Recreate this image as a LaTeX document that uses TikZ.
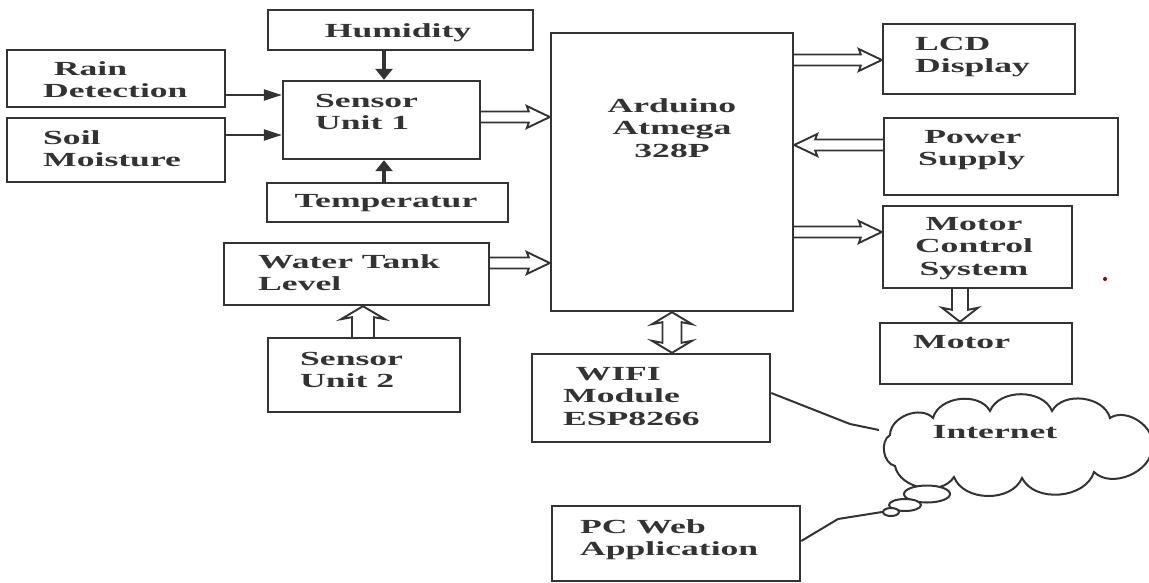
\documentclass[tikz,border=0pt]{standalone}
\usepackage{fontspec}
\setmainfont{Liberation Serif}
\usepackage{graphicx}
\usetikzlibrary{fit,calc,arrows.meta,shapes.geometric}
\definecolor{ink}{HTML}{333333}
\newcommand\tl[1]{\scalebox{1.78}[1]{\begin{tabular}[t]{@{}l@{}}#1\end{tabular}}}
\newcommand\tc[1]{\scalebox{1.78}[1]{\begin{tabular}[t]{@{}c@{}}#1\end{tabular}}}
\tikzset{
  fw/.store in=\fw, fh/.store in=\fh, fl/.store in=\fl,
  fw=5.5pt, fh=11pt, fl=21pt,
  box/.style={draw=ink, line width=2.4pt, inner sep=0pt, fill=white},
  txt/.style={text=ink, inner sep=0pt, font=\fontsize{20}{22.6}\selectfont\bfseries},
  arrh/.style={draw=ink, line width=2.2pt, -{Triangle[length=18pt,width=11pt]}},
  arrv/.style={draw=ink, line width=3.2pt, -{Triangle[length=11pt,width=17pt]}},
  fat/.style={draw=ink, line width=1.9pt, line join=miter, to path={
    let \p1=(\tikztostart), \p2=(\tikztotarget), \n1={atan2(\y2-\y1,\x2-\x1)} in
    ($(\p1)+(\n1+90:\fw)$) -- ($(\p2)+(\n1+180:\fl)+(\n1+90:\fw)$)
    -- ($(\p2)+(\n1+180:\fl+2pt)+(\n1+90:\fh)$) -- (\p2)
    -- ($(\p2)+(\n1+180:\fl+2pt)+(\n1-90:\fh)$) -- ($(\p2)+(\n1+180:\fl)+(\n1-90:\fw)$)
    -- ($(\p1)+(\n1-90:\fw)$)}},
  fatboth/.style={draw=ink, line width=1.9pt, line join=miter, to path={
    let \p1=(\tikztostart), \p2=(\tikztotarget), \n1={atan2(\y2-\y1,\x2-\x1)} in
    ($(\p1)+(\n1:\fl)+(\n1+90:\fw)$) -- ($(\p2)+(\n1+180:\fl)+(\n1+90:\fw)$)
    -- ($(\p2)+(\n1+180:\fl+2pt)+(\n1+90:\fh)$) -- (\p2)
    -- ($(\p2)+(\n1+180:\fl+2pt)+(\n1-90:\fh)$) -- ($(\p2)+(\n1+180:\fl)+(\n1-90:\fw)$)
    -- ($(\p1)+(\n1:\fl)+(\n1-90:\fw)$)
    -- ($(\p1)+(\n1:\fl+2pt)+(\n1-90:\fh)$) -- (\p1)
    -- ($(\p1)+(\n1:\fl+2pt)+(\n1+90:\fh)$) -- cycle}},
  bub/.style={ellipse, draw=ink, line width=2pt, inner sep=0pt, fill=white},
  puff/.style={bend right=68}
}
\begin{document}
\begin{tikzpicture}[x=1pt,y=1pt]
\fill[white] (0,0) rectangle (1149,-582);
\useasboundingbox (0,0) rectangle (1149,-582);

% boxes
\node[box, fit={(268,-10)(533,-50)}] (hum) {};
\node[box, fit={(7,-50)(225,-107)}] (rain) {};
\node[box, fit={(7,-118)(225,-182)}] (soil) {};
\node[box, fit={(283,-81)(480,-159)}] (su1) {};
\node[box, fit={(267,-183)(508,-222)}] (temp) {};
\node[box, fit={(224,-243)(489,-305)}] (wt) {};
\node[box, fit={(268,-338)(460,-412)}] (su2) {};
\node[box, fit={(551,-33)(793,-311)}] (ard) {};
\node[box, fit={(883,-24)(1075,-94)}] (lcd) {};
\node[box, fit={(884,-118)(1118,-195)}] (pow) {};
\node[box, fit={(883,-206)(1072,-288)}] (mcs) {};
\node[box, fit={(880,-323)(1072,-384)}] (mot) {};
\node[box, fit={(532,-354)(770,-442)}] (wifi) {};
\node[box, fit={(552,-506)(800,-581)}] (pc) {};

% cloud
\coordinate (net) at (1015,-447);
\coordinate (netw) at (879,-430);
\draw[draw=ink, line width=2pt, fill=white]
  (1152,-447) to[puff] (1110,-418) to[puff] (1052,-411) to[puff] (990,-411)
  to[puff] (933,-418) to[puff] (890,-435) to[puff] (895,-466)
  to[puff] (954,-477) to[puff] (1022,-478) to[puff] (1094,-472) to[puff] (1152,-447);
\node[bub, minimum width=46pt, minimum height=17pt] (b1) at (927,-494) {};
\node[bub, minimum width=32pt, minimum height=12pt] (b2) at (905,-505) {};
\node[bub, minimum width=16pt, minimum height=8pt] (b3) at (891,-512) {};

% texts
\node[txt, anchor=base] (hum-t) at (398,-37) {\tc{Humidity}};
\node[txt, anchor=base west] (rain-t) at (43,-75) {\tl{\hspace*{6pt}Rain\\Detection}};
\node[txt, anchor=base west] (soil-t) at (43,-144) {\tl{Soil\\Moisture}};
\node[txt, anchor=base west] (su1-t) at (315,-107) {\tl{Sensor\\Unit 1}};
\node[txt, anchor=base] (temp-t) at (386,-207) {\tc{Temperatur}};
\node[txt, anchor=base west] (wt-t) at (258,-268) {\tl{Water Tank\\Level}};
\node[txt, anchor=base west] (su2-t) at (300,-365) {\tl{Sensor\\Unit 2}};
\node[txt, anchor=base] (ard-t) at (672,-112) {\tc{Arduino\\Atmega\\328P}};
\node[txt, anchor=base west] (lcd-t) at (915,-50) {\tl{LCD\\Display}};
\node[txt, anchor=base west] (pow-t) at (918,-143) {\tl{\hspace*{3.5pt}Power\\Supply}};
\node[txt, anchor=base] (mcs-t) at (974,-230) {\tc{Motor\\Control\\System}};
\node[txt, anchor=base west] (mot-t) at (913,-348) {\tl{Motor}};
\node[txt, anchor=base west] (wifi-t) at (563,-380) {\tl{\hspace*{7pt}WIFI\\Module\\ESP8266}};
\node[txt, anchor=base west] (pc-t) at (580,-533) {\tl{PC Web\\Application}};
\node[txt, anchor=base] (net-t) at (995,-438) {\tc{Internet}};

% thin arrows
\draw[arrh] (rain.east |- 0,-95) -- (su1.west |- 0,-95);
\draw[arrh] (soil.east |- 0,-135) -- (su1.west |- 0,-135);
\draw[arrv] (hum.south -| 384,0) -- (su1.north -| 384,0);
\draw[arrv] (temp.north -| 384,0) -- (su1.south -| 384,0);

% fat arrows
\draw[fat] (su1.east |- 0,-117) to (ard.west |- 0,-117);
\draw[fat] (wt.east |- 0,-263) to (ard.west |- 0,-263);
\draw[fat] (ard.east |- 0,-60) to (lcd.west |- 0,-60);
\draw[fat] (pow.west |- 0,-145) to (ard.east |- 0,-145);
\draw[fat] (ard.east |- 0,-232) to (mcs.west |- 0,-232);
\draw[fat, fw=8pt, fh=18pt, fl=12pt] (mcs.south -| 960,0) to (mot.north -| 960,0);
\draw[fat, fw=11pt, fh=22pt, fl=11pt] (su2.north -| 363,0) to (wt.south -| 363,0);
\draw[fatboth, fw=9.5pt, fh=20pt, fl=10pt] (ard.south -| 672,0) to (wifi.north -| 672,0);

% links to the cloud
\coordinate (w1) at (850,-424);
\draw[draw=ink, line width=2pt] (wifi.east |- 0,-393) -- (w1) -- (netw);
\coordinate (p1) at (838,-519);
\draw[draw=ink, line width=2pt] (pc.east |- 0,-541) -- (p1) -- (b3.west);

% stray dot
\fill[red!60!black] (1105,-279) circle (2pt);
\end{tikzpicture}
\end{document}
